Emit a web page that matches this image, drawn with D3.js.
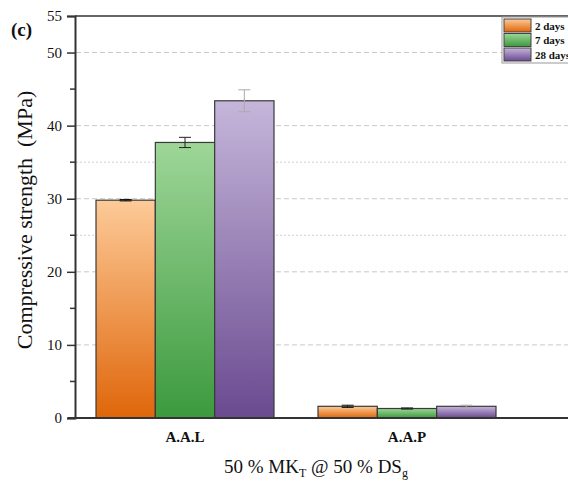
<!DOCTYPE html>
<html>
<head>
<meta charset="utf-8">
<script src="https://cdn.jsdelivr.net/npm/d3@7"></script>
<style>
body { margin: 0; background: #fff; }
svg { font-family: "Liberation Serif", "DejaVu Serif", serif; }
</style>
</head>
<body>
<svg id="chart" width="568" height="484"></svg>
<script>
var categories = ["A.A.L", "A.A.P"];
var series = ["2 days", "7 days", "28 days"];
var values = [[29.8, 37.7, 43.4], [1.6, 1.3, 1.6]];
var errors = [[0.1, 0.7, 1.5], [0.15, 0.08, 0.15]];
var yTicks = [0, 10, 20, 30, 40, 50, 55];
var yMinor = [5, 15, 25, 35, 45];
var gridMajor = [10, 20, 30, 40, 50];
var gridMinor = [25, 35];

var topCol = ["#fdca98", "#9ed698", "#c5b6da"];
var botCol = ["#df660a", "#3c9a3e", "#6a4a90"];
var errCol = ["#111", "#222", "#aaa"];

var svg = d3.select("#chart");
var y = d3.scaleLinear().domain([0, 55]).range([418, 16]);
var x = d3.scaleBand().domain(categories).range([74, 518]);
var xs = d3.scaleBand().domain(series).range([0, 178]);
var off = (x.bandwidth() - 178) / 2;

//gradients per series
var defs = svg.append("defs");
series.forEach(function(s, i) {
    var g = defs.append("linearGradient").attr("id", "grad" + i)
        .attr("x1", 0).attr("y1", 0).attr("x2", 0).attr("y2", 1);
    g.append("stop").attr("offset", "0%").attr("stop-color", topCol[i]);
    g.append("stop").attr("offset", "100%").attr("stop-color", botCol[i]);
});

//grid
svg.append("g").selectAll("line").data(gridMajor).enter().append("line")
    .attr("x1", 76).attr("x2", 568)
    .attr("y1", d => y(d)).attr("y2", d => y(d))
    .attr("stroke", "#c8c8c8").attr("stroke-width", 1).attr("stroke-dasharray", "5,3");
svg.append("g").selectAll("line").data(gridMinor).enter().append("line")
    .attr("x1", 76).attr("x2", 568)
    .attr("y1", d => y(d)).attr("y2", d => y(d))
    .attr("stroke", "#d0d0d0").attr("stroke-width", 1).attr("stroke-dasharray", "2,2");

//top frame line
svg.append("line").attr("x1", 75).attr("x2", 568)
    .attr("y1", y(55)).attr("y2", y(55))
    .attr("stroke", "#333").attr("stroke-width", 1.5);

//bars
var rows = [];
categories.forEach(function(c, ci) {
    series.forEach(function(s, si) {
        rows.push({ cat: c, s: s, si: si, v: values[ci][si], e: errors[ci][si] });
    });
});
var bars = svg.append("g").selectAll("g").data(rows).enter().append("g");
bars.append("rect")
    .attr("x", d => x(d.cat) + off + xs(d.s))
    .attr("y", d => y(d.v))
    .attr("width", xs.bandwidth())
    .attr("height", d => y(0) - y(d.v))
    .attr("fill", d => "url(#grad" + d.si + ")")
    .attr("stroke", "#3a3a3a").attr("stroke-width", 1.2);

//error bars
bars.each(function(d) {
    var g = d3.select(this);
    var cx = x(d.cat) + off + xs(d.s) + xs.bandwidth() / 2;
    var col = errCol[d.si];
    g.append("line").attr("x1", cx).attr("x2", cx)
        .attr("y1", y(d.v + d.e)).attr("y2", y(d.v - d.e))
        .attr("stroke", col).attr("stroke-width", 1);
    g.append("line").attr("x1", cx - 6).attr("x2", cx + 6)
        .attr("y1", y(d.v + d.e)).attr("y2", y(d.v + d.e))
        .attr("stroke", col).attr("stroke-width", 1);
    g.append("line").attr("x1", cx - 6).attr("x2", cx + 6)
        .attr("y1", y(d.v - d.e)).attr("y2", y(d.v - d.e))
        .attr("stroke", col).attr("stroke-width", 1);
});

//y axis
var yAxis = svg.append("g").attr("transform", "translate(75,0)")
    .call(d3.axisLeft(y).tickValues(yTicks).tickSize(8).tickPadding(5).tickFormat(d3.format("d")));
yAxis.select(".domain").attr("stroke", "#333").attr("stroke-width", 2);
yAxis.selectAll(".tick line").attr("stroke", "#333").attr("stroke-width", 1.5);
yAxis.selectAll(".tick text").attr("font-size", 15).attr("fill", "#111")
    .attr("font-family", "Liberation Serif, serif");
yAxis.append("g").selectAll("line").data(yMinor).enter().append("line")
    .attr("x1", -5).attr("x2", 0)
    .attr("y1", d => y(d)).attr("y2", d => y(d))
    .attr("stroke", "#333").attr("stroke-width", 1.5);

//x axis
var xAxis = svg.append("g").attr("transform", "translate(0,418)")
    .call(d3.axisBottom(x).tickSize(0).tickPadding(13));
xAxis.select(".domain").remove();
xAxis.append("line").attr("x1", 68).attr("x2", 568)
    .attr("stroke", "#333").attr("stroke-width", 2);
xAxis.selectAll(".tick text").attr("font-size", 15).attr("font-weight", "bold")
    .attr("fill", "#111").attr("font-family", "Liberation Serif, serif");

//labels
svg.append("text").attr("transform", "translate(32,220) rotate(-90)")
    .attr("text-anchor", "middle").attr("font-size", 22).attr("fill", "#111")
    .text("Compressive strength\u00a0\u00a0(MPa)");

var xt = svg.append("text").attr("x", 316).attr("y", 473)
    .attr("text-anchor", "middle").attr("font-size", 19).attr("fill", "#111");
xt.append("tspan").text("50 % MK");
xt.append("tspan").attr("font-size", 12).attr("dy", 4).text("T");
xt.append("tspan").attr("dy", -4).text(" @ 50 % DS");
xt.append("tspan").attr("font-size", 12).attr("dy", 4).text("g");

svg.append("text").attr("x", 11).attr("y", 36)
    .attr("font-size", 19).attr("font-weight", "bold").attr("fill", "#111").text("(c)");

//legend
var lg = svg.append("g").attr("transform", "translate(502,17)");
lg.append("rect").attr("x", 0).attr("y", 0).attr("width", 70).attr("height", 46)
    .attr("fill", "#fff").attr("stroke", "#999").attr("stroke-width", 1);
var li = lg.selectAll(".li").data(series).enter().append("g")
    .attr("transform", (d, i) => "translate(2," + (2 + i * 14.5) + ")");
li.append("rect").attr("width", 27).attr("height", 13)
    .attr("fill", (d, i) => "url(#grad" + i + ")")
    .attr("stroke", "#444").attr("stroke-width", 1);
li.append("text").attr("x", 31).attr("y", 10.5)
    .attr("font-size", 11).attr("font-weight", "bold").attr("fill", "#111")
    .text(d => d);
</script>
</body>
</html>
